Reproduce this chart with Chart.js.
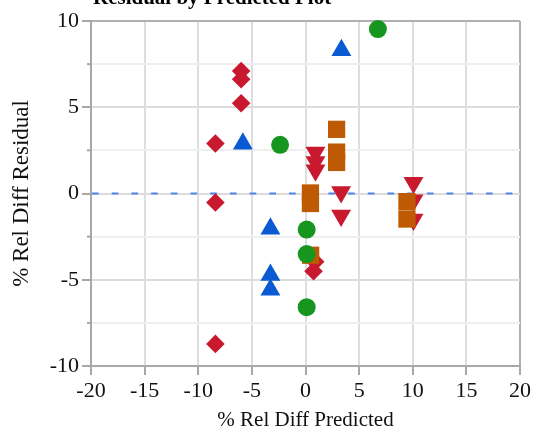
<!DOCTYPE html>
<html>
<head>
<meta charset="utf-8">
<script src="https://cdn.jsdelivr.net/npm/chart.js@4"></script>
<style>
  html, body { margin: 0; padding: 0; background: #fff; }
  #wrap { width: 534px; height: 432px; position: relative; }
</style>
</head>
<body>
<div id="wrap"><canvas id="residChart"></canvas></div>
<script>
// Points: [predicted %, residual %]
const diamonds = [[-6.0, 7.1], [-6.0, 6.63], [-6.0, 5.23], [-8.4, 2.9], [-8.4, -0.52], [-8.4, -8.72], [0.9, -3.95], [0.75, -4.5]];
const upTriangles = [[3.35, 8.31], [-5.84, 2.89], [-3.27, -2.05], [-3.27, -4.73], [-3.27, -5.58]];
const circles = [[6.75, 9.53], [-2.37, 2.82], [0.11, -2.09], [0.11, -3.51], [0.11, -6.59]];
const squares = [[2.9, 3.72], [2.9, 2.4], [2.9, 1.8], [0.46, 0.03], [0.46, -0.58], [0.48, -3.58], [9.46, -0.47], [9.46, -1.48]];
const downTriangles = [[0.93, 2.38], [0.93, 1.83], [0.93, 1.35], [3.32, 0.09], [3.32, -1.27], [10.07, 0.62], [10.07, -0.39], [10.07, -1.5]];

const xTicks = [-20, -15, -10, -5, 0, 5, 10, 15, 20];
const yLabels = [-10, -5, 0, 5, 10];
const yMinorTicks = [-7.5, -2.5, 2.5, 7.5];
const zeroLine = 0;

const titleText = 'Residual by Predicted Plot';
const xTitle = '% Rel Diff Predicted';
const yTitle = '% Rel Diff Residual';

const serif = "'Liberation Serif', 'DejaVu Serif', serif";

const toPts = arr => arr.map(p => ({ x: p[0], y: p[1] }));

// dashed reference line at zero + cut-off plot title + minor y ticks
const extras = {
    id: 'extras',
    beforeDatasetsDraw(chart) {
        const { ctx, chartArea, scales } = chart;
        const y = scales.y.getPixelForValue(zeroLine);
        ctx.save();
        ctx.strokeStyle = '#4f84e8';
        ctx.lineWidth = 2;
        ctx.setLineDash([6.7, 13]);
        ctx.beginPath();
        ctx.moveTo(chartArea.left + 1, y);
        ctx.lineTo(chartArea.right, y);
        ctx.stroke();
        ctx.restore();
    },
    afterDraw(chart) {
        const { ctx, chartArea, scales } = chart;
        ctx.save();
        ctx.strokeStyle = '#a8a8a8';
        ctx.lineWidth = 2;
        yMinorTicks.forEach(v => {
            const py = scales.y.getPixelForValue(v);
            ctx.beginPath();
            ctx.moveTo(chartArea.left - 4, py);
            ctx.lineTo(chartArea.left, py);
            ctx.stroke();
        });
        ctx.fillStyle = '#000';
        ctx.font = 'bold 21px ' + serif;
        ctx.textBaseline = 'alphabetic';
        ctx.fillText(titleText, 93, 4);
        ctx.restore();
    }
};

new Chart(document.getElementById('residChart'), {
    type: 'scatter',
    data: {
        datasets: [
            { data: toPts(upTriangles), pointStyle: 'triangle', pointRadius: 11.5, backgroundColor: '#0a5ad4', borderWidth: 0 },
            { data: toPts(circles), pointStyle: 'circle', pointRadius: 9, backgroundColor: '#16961e', borderWidth: 0 },
            { data: toPts(squares), pointStyle: 'rect', pointRadius: 12.2, backgroundColor: '#be5a04', borderWidth: 0 },
            { data: toPts(downTriangles), pointStyle: 'triangle', rotation: 180, pointRadius: 11.5, backgroundColor: '#c8192e', borderWidth: 0 },
            { data: toPts(diamonds), pointStyle: 'rectRot', pointRadius: 9.3, backgroundColor: '#c8192e', borderWidth: 0 }
        ]
    },
    options: {
        responsive: true,
        maintainAspectRatio: false,
        animation: false,
        events: [],
        clip: false,
        layout: { padding: { top: 21, right: 13, left: 0, bottom: 0 } },
        plugins: { legend: { display: false }, tooltip: { enabled: false } },
        scales: {
            x: {
                type: 'linear',
                min: -20, max: 20,
                afterFit: s => { s.height = 66; },
                afterBuildTicks: s => { s.ticks = xTicks.map(v => ({ value: v })); },
                ticks: { font: { family: serif, size: 22 }, color: '#111', padding: 3, maxRotation: 0, autoSkip: false },
                grid: {
                    color: c => c.tick.value === 20 ? '#b0b0b0' : (c.tick.value === -20 ? 'rgba(0,0,0,0)' : '#dedede'),
                    lineWidth: 2,
                    tickColor: '#a8a8a8',
                    tickLength: 9,
                    tickWidth: 2
                },
                border: { display: true, color: '#a8a8a8', width: 2 },
                title: { display: true, text: xTitle, font: { family: serif, size: 21 }, color: '#111', padding: { top: 0, bottom: -1 } }
            },
            y: {
                type: 'linear',
                min: -10, max: 10,
                afterFit: s => { s.width = 91; },
                ticks: {
                    stepSize: 2.5,
                    font: { family: serif, size: 22 },
                    color: '#111',
                    padding: 3,
                    callback: v => yLabels.includes(v) ? String(v) : ''
                },
                grid: {
                    color: c => c.tick.value === 10 ? '#b0b0b0' : (c.tick.value % 5 === 0 ? '#dcdcdc' : '#efefef'),
                    lineWidth: 2,
                    tickColor: c => c.tick.value % 5 === 0 ? '#a8a8a8' : 'rgba(0,0,0,0)',
                    tickLength: 9,
                    tickWidth: 2
                },
                border: { display: true, color: '#a8a8a8', width: 2 },
                title: { display: true, text: yTitle, font: { family: serif, size: 23 }, color: '#111', padding: { top: 8, bottom: 0 } }
            }
        }
    },
    plugins: [extras]
});
</script>
</body>
</html>
